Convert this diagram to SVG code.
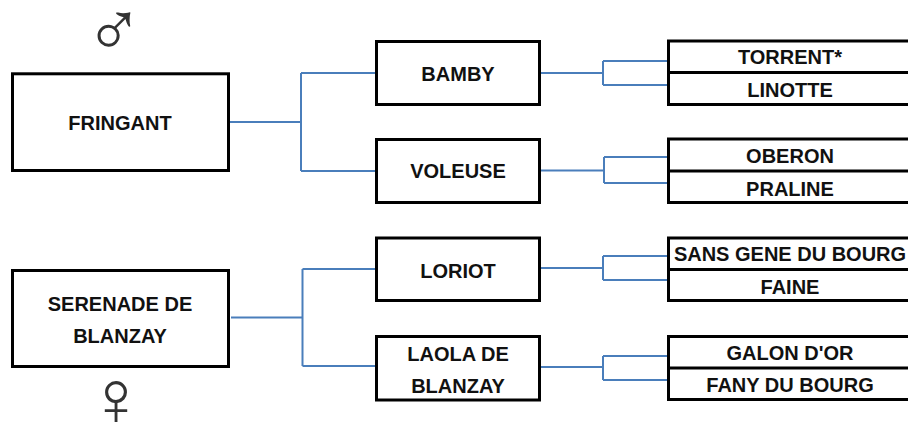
<svg xmlns="http://www.w3.org/2000/svg" width="908" height="425" viewBox="0 0 908 425">
<style>
.box{fill:#fff;stroke:#000;stroke-width:3}
.div{stroke:#000;stroke-width:3}
.t{font-family:"Liberation Sans",Arial,sans-serif;font-weight:bold;font-size:20px;fill:#111;text-anchor:middle}
.c{fill:none;stroke:#4a7ebb;stroke-width:2}
.sym{font-family:"DejaVu Sans",sans-serif;font-weight:200;font-size:78px;fill:#333;text-anchor:middle}
</style>
<rect width="908" height="425" fill="#fff"/>
<g id="connectors">
<path class="c" d="M230 122H301M301 73V171M301 73H375M301 171H375"/>
<path class="c" d="M541 73H603M603 61V85M603 61H667M603 85H667"/>
<path class="c" d="M541 170.5H604M604 157V183M604 157H667M604 183H667"/>
<path class="c" d="M231 317.5H302.5M302.5 269V366M302.5 269H375M302.5 366H375"/>
<path class="c" d="M541 268H603M603 256V280M603 256H667M603 280H667"/>
<path class="c" d="M541 367H603M603 356V380M603 356H667M603 380H667"/>
</g>
<g id="male"><text class="sym" x="114" y="55.5">♂</text></g>
<g id="female"><text class="sym" x="116" y="425">♀</text></g>
<g id="fringant"><rect class="box" x="12.5" y="73.8" width="216" height="96.7"/><text class="t" x="120" y="130">FRINGANT</text></g>
<g id="serenade"><rect class="box" x="12.5" y="270.5" width="216" height="96"/><text class="t" x="120" y="310.5">SERENADE DE</text><text class="t" x="120" y="342.5">BLANZAY</text></g>
<g id="bamby"><rect class="box" x="376.5" y="41.5" width="163" height="63"/><text class="t" x="458" y="80.5">BAMBY</text></g>
<g id="voleuse"><rect class="box" x="376.5" y="139.5" width="163" height="63"/><text class="t" x="458" y="178">VOLEUSE</text></g>
<g id="loriot"><rect class="box" x="376.5" y="238" width="163" height="62.5"/><text class="t" x="458" y="277.5">LORIOT</text></g>
<g id="laola"><rect class="box" x="376.5" y="336.5" width="163" height="63.5"/><text class="t" x="458" y="360.5">LAOLA DE</text><text class="t" x="458" y="393">BLANZAY</text></g>
<g id="pair1"><rect class="box" x="668.5" y="41" width="246" height="63.5"/><line class="div" x1="668.5" y1="72.5" x2="914" y2="72.5"/><text class="t" x="790" y="64">TORRENT*</text><text class="t" x="790" y="97">LINOTTE</text></g>
<g id="pair2"><rect class="box" x="668.5" y="139" width="246" height="63.5"/><line class="div" x1="668.5" y1="171" x2="914" y2="171"/><text class="t" x="790" y="163">OBERON</text><text class="t" x="790" y="195.5">PRALINE</text></g>
<g id="pair3"><rect class="box" x="668.5" y="238" width="246" height="62.5"/><line class="div" x1="668.5" y1="269.5" x2="914" y2="269.5"/><text class="t" x="790" y="261">SANS GENE DU BOURG</text><text class="t" x="790" y="294">FAINE</text></g>
<g id="pair4"><rect class="box" x="668.5" y="336.5" width="246" height="63"/><line class="div" x1="668.5" y1="368" x2="914" y2="368"/><text class="t" x="790" y="360">GALON D'OR</text><text class="t" x="790" y="392">FANY DU BOURG</text></g>
</svg>
